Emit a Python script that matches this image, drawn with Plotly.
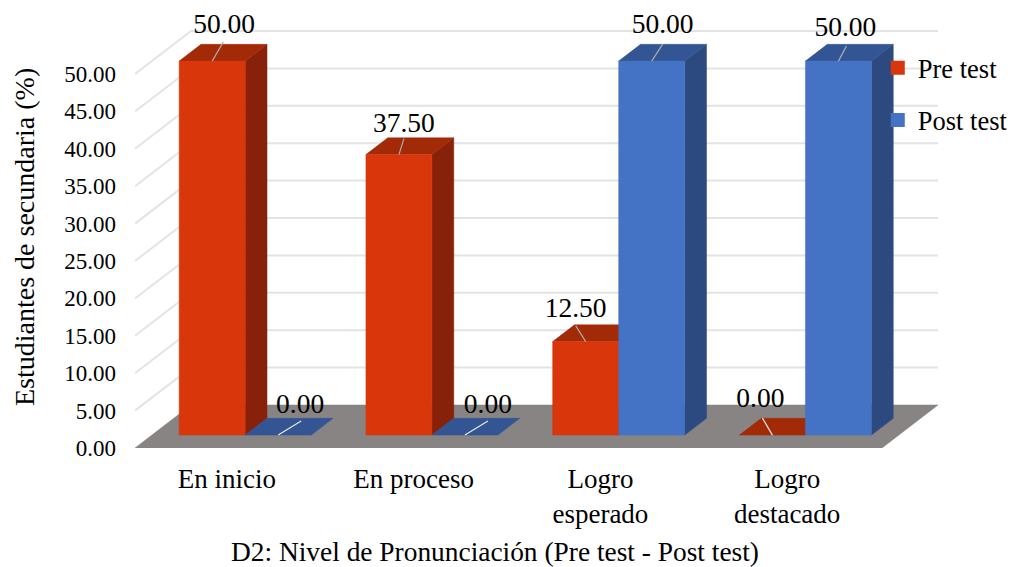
import plotly.graph_objects as go

# ---- data ----
categories = ["En inicio", "En proceso", "Logro<br>esperado", "Logro<br>destacado"]
pre_test = [50.0, 37.5, 12.5, 0.0]
post_test = [0.0, 0.0, 50.0, 50.0]
y_ticks = [0, 5, 10, 15, 20, 25, 30, 35, 40, 45, 50]

# ---- layout constants ----
PX_X = 186.75            # px per category
PX_Y = 7.48              # px per percent
DEPTH_X = 56 / PX_X      # floor depth expressed in axis units
DEPTH_Y = 43 / PX_Y
T0, T1 = 0.30, 0.69      # front / back plane of the bars in the floor depth
BAR_W = 66 / PX_X
FONT = "Liberation Serif"
RED = ("#D9360B", "#A32A07", "#88210A")
BLUE = ("#4472C4", "#335593", "#2C4A80")
GRID = "#E4E4E4"
FLOOR = "#878483"
# data-label placement (px from the centre of the bar's front top edge):
# (label dx, label dy, leader end dx, leader end dy)
PRE_LABEL = [(12, 34.5, 11, 19), (5, 29.5, 5, 16), (-10, 31, -10, 16), (-12, 34.5, -10, 17)]
POST_LABEL = [(22, 29, 23, 14), (23, 29, 23, 14), (11, 34.5, 11, 17), (7, 32, 8, 15)]
TICK_NUDGE = -1.5 / PX_X


def proj(x, y, t):
    return x + t * DEPTH_X, y + t * DEPTH_Y


def poly(fig, pts, color):
    fig.add_trace(go.Scatter(
        x=[p[0] for p in pts] + [pts[0][0]], y=[p[1] for p in pts] + [pts[0][1]],
        mode="lines", fill="toself", fillcolor=color, line=dict(color=color, width=0.5),
        hoverinfo="skip", showlegend=False))


fig = go.Figure()

# gridlines: up the side wall, then along the back wall
x_lo, x_hi = -0.5, len(categories) - 0.5
for v in y_ticks[1:]:
    a, b, c = proj(x_lo, v, 0), proj(x_lo, v, 1), proj(x_hi, v, 1)
    fig.add_trace(go.Scatter(x=[a[0], b[0], c[0]], y=[a[1], b[1], c[1]], mode="lines",
                             line=dict(color=GRID, width=2), hoverinfo="skip", showlegend=False))

# floor
poly(fig, [proj(x_lo, 0, 0), proj(x_hi, 0, 0), proj(x_hi, 0, 1), proj(x_lo, 0, 1)], FLOOR)


def bar(fig, x0, x1, v, cols):
    f, t, s = cols
    if v > 0:
        poly(fig, [proj(x1, 0, T0), proj(x1, 0, T1), proj(x1, v, T1), proj(x1, v, T0)], s)
    poly(fig, [proj(x0, v, T0), proj(x1, v, T0), proj(x1, v, T1), proj(x0, v, T1)], t)
    if v > 0:
        poly(fig, [proj(x0, 0, T0), proj(x1, 0, T0), proj(x1, v, T0), proj(x0, v, T0)], f)


for i in range(len(categories)):
    bar(fig, i - BAR_W, i, pre_test[i], RED)
    bar(fig, i, i + BAR_W, post_test[i], BLUE)

# leaders + data labels
lab_x, lab_y, lab_t = [], [], []
for i in range(len(categories)):
    for v, off, xc in ((pre_test[i], PRE_LABEL[i], i - BAR_W / 2),
                       (post_test[i], POST_LABEL[i], i + BAR_W / 2)):
        cx, cy = proj(xc, v, T0)
        fig.add_trace(go.Scatter(
            x=[cx, cx + off[2] / PX_X], y=[cy, cy + off[3] / PX_Y], mode="lines",
            line=dict(color="#E8E8E8" if v == 0 else "#ABABAB", width=1.2),
            hoverinfo="skip", showlegend=False))
        lab_x.append(cx + off[0] / PX_X)
        lab_y.append(cy + off[1] / PX_Y)
        lab_t.append(f"{v:.2f}")
fig.add_trace(go.Scatter(x=lab_x, y=lab_y, text=lab_t, mode="text", textposition="middle center",
                         textfont=dict(family=FONT, size=27.5, color="#000"),
                         hoverinfo="skip", showlegend=False, cliponaxis=False))

# legend
for name, col in (("Pre test", RED[0]), ("Post test", BLUE[0])):
    fig.add_trace(go.Scatter(x=[None], y=[None], mode="markers", name=name, legendgroup=name,
                             marker=dict(symbol="square", size=14, color=col)))

# the page adds an 8 px body margin on the top and left
fig.update_layout(
    width=1008, height=559, margin=dict(l=127, r=78, t=6, b=119, autoexpand=False),
    paper_bgcolor="white", plot_bgcolor="white",
    font=dict(family=FONT, color="#000"),
    xaxis=dict(range=[x_lo, x_hi + DEPTH_X], tickvals=[i + TICK_NUDGE for i in range(len(categories))],
               ticktext=categories,
               showgrid=False, zeroline=False, showline=False, ticks="", ticklabelstandoff=12,
               tickfont=dict(size=27)),
    yaxis=dict(range=[0, 434 / PX_Y], tickvals=y_ticks, ticktext=[f"{v:.2f}" for v in y_ticks],
               showgrid=False, zeroline=False, showline=False, ticks="", ticklabelstandoff=18,
               tickfont=dict(size=23)),
    legend=dict(x=0.925, xanchor="left", y=0.931, yanchor="top", font=dict(size=26.5),
                tracegroupgap=15, itemwidth=30, bgcolor="rgba(0,0,0,0)"),
    annotations=[
        dict(text="D2: Nivel de Pronunciación (Pre test - Post test)", xref="paper", yref="paper",
             x=(495 - 135) / 803, y=-(552 - 448) / 434, xanchor="center", yanchor="middle",
             showarrow=False, font=dict(size=27.4)),
        dict(text="Estudiantes de secundaria (%)", xref="paper", yref="paper", textangle=-90,
             x=(24 - 135) / 803, y=(448 - 237) / 434, xanchor="center", yanchor="middle",
             showarrow=False, font=dict(size=28)),
    ],
)
fig.write_html("out.html")
